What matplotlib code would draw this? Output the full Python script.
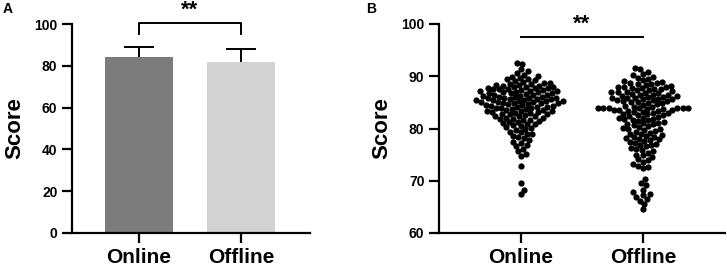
import matplotlib
matplotlib.use('Agg')
import matplotlib.pyplot as plt
import numpy as np

plt.rcParams['font.family'] = ['Liberation Sans', 'DejaVu Sans']
plt.rcParams['font.weight'] = 'bold'

groups = ['Online', 'Offline']
bar_means = [84.1, 81.8]
bar_sd = [4.7, 6.4]
bar_colors = ['#7c7c7c', '#d2d2d2']

online_scores = [
    67.4, 68.2, 69.6, 72.9, 74.8, 75.2, 75.7,
    76.1, 76.6, 76.9,
    77.2, 77.5, 77.8,
    78.1, 78.3, 78.6, 78.9,
    79.0, 79.3, 79.4, 79.7, 79.9,
    80.1, 80.2, 80.5, 80.6, 80.8, 80.9,
    81.0, 81.2, 81.3, 81.5, 81.6, 81.7, 81.8, 81.9,
    82.0, 82.1, 82.3, 82.3, 82.4, 82.6, 82.7, 82.7, 82.8, 82.9,
    83.0, 83.1, 83.2, 83.3, 83.3, 83.4, 83.5, 83.6, 83.7, 83.8, 83.9, 83.9,
    84.0, 84.1, 84.1, 84.2, 84.3, 84.4, 84.5, 84.5, 84.6, 84.7, 84.8, 84.8, 84.9, 84.9,
    85.0, 85.0, 85.1, 85.2, 85.2, 85.3, 85.4, 85.4, 85.5, 85.6, 85.6, 85.7, 85.8, 85.8, 85.9, 85.9,
    86.0, 86.1, 86.1, 86.2, 86.3, 86.4, 86.4, 86.5, 86.6, 86.7, 86.8, 86.8, 86.9, 86.9,
    87.0, 87.1, 87.1, 87.2, 87.3, 87.4, 87.5, 87.5, 87.6, 87.7, 87.8, 87.8, 87.9, 87.9,
    88.0, 88.1, 88.2, 88.3, 88.4, 88.5, 88.6, 88.7, 88.8, 88.9,
    89.0, 89.2, 89.4, 89.5, 89.7, 89.9,
    90.0, 90.3, 90.6,
    91.0, 91.4,
    92.4, 92.6,
]

offline_scores = [
    64.6, 65.6,
    66.2, 66.5, 66.9,
    67.2, 67.4, 67.8,
    68.3,
    69.1, 69.5,
    70.3,
    72.4, 72.7, 72.9,
    73.2, 73.6, 73.9,
    74.1, 74.6, 74.9,
    75.0, 75.4, 75.7, 75.9,
    76.1, 76.3, 76.6, 76.8, 76.9,
    77.0, 77.2, 77.4, 77.6, 77.8, 77.9,
    78.0, 78.1, 78.3, 78.4, 78.6, 78.8, 78.9,
    79.0, 79.2, 79.4, 79.6, 79.8, 79.9,
    80.0, 80.1, 80.3, 80.5, 80.6, 80.8, 80.9,
    81.0, 81.1, 81.3, 81.4, 81.6, 81.7, 81.8, 81.9,
    82.0, 82.1, 82.2, 82.4, 82.5, 82.6, 82.7, 82.8, 82.9,
    83.0, 83.1, 83.2, 83.3, 83.4, 83.5, 83.5, 83.6, 83.7, 83.8, 83.9,
    84.0, 84.0, 84.0, 84.0, 84.0, 84.0, 84.1, 84.2, 84.3, 84.5, 84.6, 84.8, 84.9,
    85.0, 85.1, 85.2, 85.3, 85.4, 85.5, 85.6, 85.6, 85.7, 85.8, 85.9, 85.9,
    86.0, 86.1, 86.2, 86.3, 86.4, 86.5, 86.5, 86.6, 86.7, 86.8, 86.9, 86.9,
    87.0, 87.1, 87.3, 87.4, 87.5, 87.6, 87.7, 87.8, 87.9, 87.9,
    88.0, 88.2, 88.3, 88.5, 88.6, 88.7, 88.8, 88.9,
    89.0, 89.3, 89.5, 89.7, 89.9,
    90.2, 90.5, 90.8,
    91.4, 91.6,
]

W, H = 727, 269
fig = plt.figure(figsize=(W / 100, H / 100), dpi=100)


def style(ax):
    for s in ['top', 'right']:
        ax.spines[s].set_visible(False)
    for s in ['left', 'bottom']:
        ax.spines[s].set_linewidth(1.6)
    ax.tick_params(width=1.6, length=7, labelsize=10)
    ax.tick_params(axis='x', labelsize=15, pad=4)
    for lab in ax.get_yticklabels() + ax.get_xticklabels():
        lab.set_fontweight('bold')


def swarm_offsets(values, xscale, yscale, d):
    # simple beeswarm in pixel space, returns x offsets in data units
    ys = np.asarray(values) * yscale
    order = np.argsort(ys)
    placed = []
    offs = np.zeros(len(ys))
    for i in order:
        y = ys[i]
        near = [(px, py) for px, py in placed if abs(py - y) < d]
        cands = [0.0]
        for px, py in near:
            dx = np.sqrt(d * d - (py - y) ** 2)
            cands += [px + dx, px - dx]
        cands.sort(key=abs)
        for c in cands:
            if all((c - px) ** 2 + (y - py) ** 2 >= d * d - 1e-6 for px, py in near):
                break
        placed.append((c, y))
        offs[i] = c / xscale
    return offs


# panel A: bars
axA = fig.add_axes([72 / W, 36 / H, 238 / W, 209 / H])
x = np.arange(len(groups))
axA.bar(x, bar_means, width=0.66, color=bar_colors, zorder=2)
eb = axA.errorbar(x, bar_means, yerr=[[0, 0], bar_sd], fmt='none', ecolor='black',
                  elinewidth=1.4, capsize=11, capthick=1.4, zorder=3)
eb[1][0].set_visible(False)
axA.set_xlim(-0.657, 1.676)
axA.set_ylim(0, 100)
axA.set_yticks([0, 20, 40, 60, 80, 100])
axA.set_xticks(x)
axA.set_xticklabels(groups)
axA.set_ylabel('Score', fontsize=16, fontweight='bold', labelpad=6)
style(axA)
axA.plot([0, 0, 1, 1], [95, 100.7, 100.7, 95], color='black', lw=1.4, clip_on=False)
axA.text(0.5, 101.5, '**', ha='center', va='bottom', fontsize=16, fontweight='bold')
fig.text(3 / W, 1 - 13 / H, 'A', fontsize=10, fontweight='bold', va='baseline')

# panel B: swarm
axB = fig.add_axes([439 / W, 36 / H, 286 / W, 209 / H])
xs_px = 122.0
ys_px = 209.0 / 40
for i, scores in enumerate([online_scores, offline_scores]):
    offs = swarm_offsets(scores, xs_px, ys_px, 5.4)
    axB.plot(i + offs, scores, 'o', color='black', markersize=4.5,
             markeredgewidth=0, clip_on=False)
axB.set_xlim(-0.672, 1.672)
axB.set_ylim(60, 100)
axB.set_yticks([60, 70, 80, 90, 100])
axB.set_xticks([0, 1])
axB.set_xticklabels(groups)
axB.set_ylabel('Score', fontsize=16, fontweight='bold', labelpad=6)
style(axB)
axB.plot([0, 1], [97.6, 97.6], color='black', lw=1.4, clip_on=False)
axB.text(0.5, 97.9, '**', ha='center', va='bottom', fontsize=16, fontweight='bold')
fig.text(366 / W, 1 - 13 / H, 'B', fontsize=10, fontweight='bold', va='baseline')

fig.savefig('out.png', dpi=100)
